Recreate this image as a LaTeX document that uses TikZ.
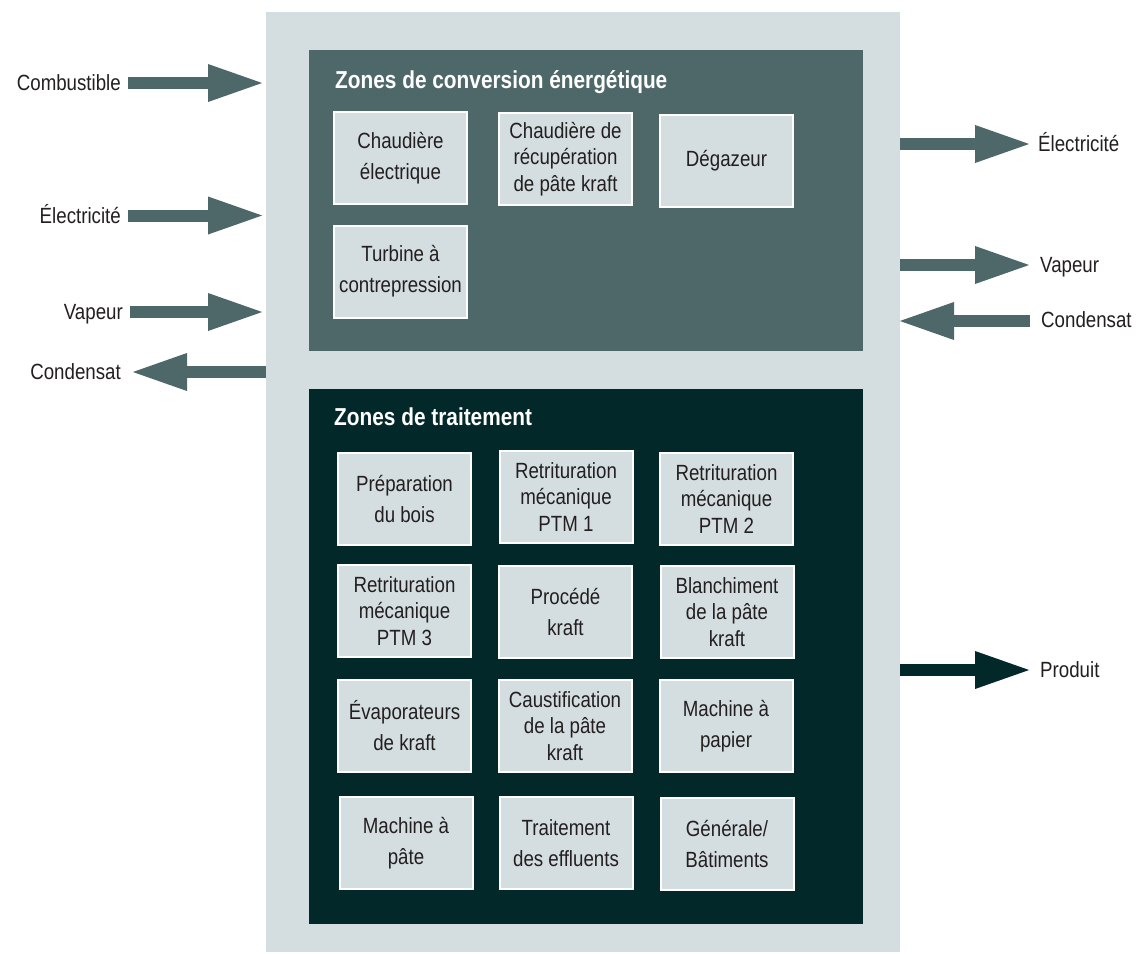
\documentclass[tikz,border=0pt]{standalone}
\usepackage{fontspec}
\setmainfont[FakeStretch=0.85]{Liberation Sans}
\usetikzlibrary{arrows.meta}
\definecolor{panelbg}{HTML}{D4DDDF}
\definecolor{energy}{HTML}{4E6869}
\definecolor{process}{HTML}{03282A}
\definecolor{ink}{HTML}{231F20}
\tikzset{
  unitbox/.style={draw=white, line width=2pt, fill=panelbg, minimum width=133pt, minimum height=92pt,
    inner sep=0pt, align=center, text=ink, font=\fontsize{22}{31}\selectfont},
  threeline/.style={font=\fontsize{22}{26.5}\selectfont},
  zonetitle/.style={anchor=base west, inner sep=0pt, text=white, font=\fontsize{24.5}{28}\selectfont\bfseries},
  flowlabel/.style={inner sep=0pt, text=ink, font=\fontsize{22}{26}\selectfont},
  fatarrow/.style={line width=12pt, draw=#1, -{Triangle[length=57pt, width=34pt, fill=#1]}},
}
\begin{document}
\begin{tikzpicture}[x=1pt, y={(0pt,-1pt)}]
\useasboundingbox (0,0) rectangle (1137,953);
\fill[white] (0,0) rectangle (1137,953);
% panels
\fill[panelbg] (266,12) rectangle (900,952);
\fill[energy] (309,50) rectangle (863,351);
\fill[process] (309,389) rectangle (863,924);
\node[zonetitle] (t1) at (335,88) {Zones de conversion énergétique};
\node[zonetitle] (t2) at (334,425) {Zones de traitement};
% energy conversion units
\node[unitbox] (ce) at (400.5,158) {Chaudière\\électrique};
\node[unitbox, threeline] (cr) at (565.5,159) {Chaudière de\\récupération\\de pâte kraft};
\node[unitbox] (dg) at (726.5,160.5) {Dégazeur};
\node[unitbox] (tc) at (400.5,271.5) {Turbine à\\contrepression};
% process units
\node[unitbox] (pb) at (404.5,498.5) {Préparation\\du bois};
\node[unitbox, threeline] (p1) at (566,497) {Retrituration\\mécanique\\PTM 1};
\node[unitbox, threeline] (p2) at (726.5,499) {Retrituration\\mécanique\\PTM 2};
\node[unitbox, threeline] (p3) at (404.5,611) {Retrituration\\mécanique\\PTM 3};
\node[unitbox] (pk) at (565.5,612) {Procédé\\kraft};
\node[unitbox, threeline] (bl) at (727,612) {Blanchiment\\de la pâte\\kraft};
\node[unitbox] (ev) at (404.5,726) {Évaporateurs\\de kraft};
\node[unitbox, threeline] (ca) at (565,726) {Caustification\\de la pâte\\kraft};
\node[unitbox] (mp) at (726,726) {Machine à\\papier};
\node[unitbox] (mt) at (406,843) {Machine à\\pâte};
\node[unitbox] (te) at (566,843) {Traitement\\des effluents};
\node[unitbox] (gb) at (727,843.5) {Générale/\\Bâtiments};
% left flows
\node[flowlabel, anchor=base east] (lcomb) at (121,90.5) {Combustible};
\node[flowlabel, anchor=base east] (lelec) at (121,223) {Électricité};
\node[flowlabel, anchor=base east] (lvap) at (123,319.5) {Vapeur};
\node[flowlabel, anchor=base east] (lcond) at (121,379.5) {Condensat};
\coordinate (a1s) at (128,83);   \coordinate (a1e) at (265,83);
\coordinate (a2s) at (128,215.5);\coordinate (a2e) at (265,215.5);
\coordinate (a3s) at (130,312);  \coordinate (a3e) at (265,312);
\coordinate (a4s) at (266,372);  \coordinate (a4e) at (130,372);
\draw[fatarrow=energy] (a1s) -- (a1e);
\draw[fatarrow=energy] (a2s) -- (a2e);
\draw[fatarrow=energy] (a3s) -- (a3e);
\draw[fatarrow=energy] (a4s) -- (a4e);
% right flows
\node[flowlabel, anchor=base west] (relec) at (1038,151) {Électricité};
\node[flowlabel, anchor=base west] (rvap) at (1040,272) {Vapeur};
\node[flowlabel, anchor=base west] (rcond) at (1041,327.5) {Condensat};
\node[flowlabel, anchor=base west] (rprod) at (1040,677) {Produit};
\coordinate (b1s) at (900,144);  \coordinate (b1e) at (1032,144);
\coordinate (b2s) at (900,265);  \coordinate (b2e) at (1032,265);
\coordinate (b3s) at (1030,321); \coordinate (b3e) at (897,321);
\coordinate (b4s) at (900,670);  \coordinate (b4e) at (1032,670);
\draw[fatarrow=energy] (b1s) -- (b1e);
\draw[fatarrow=energy] (b2s) -- (b2e);
\draw[fatarrow=energy] (b3s) -- (b3e);
\draw[fatarrow=process] (b4s) -- (b4e);
\end{tikzpicture}
\end{document}
